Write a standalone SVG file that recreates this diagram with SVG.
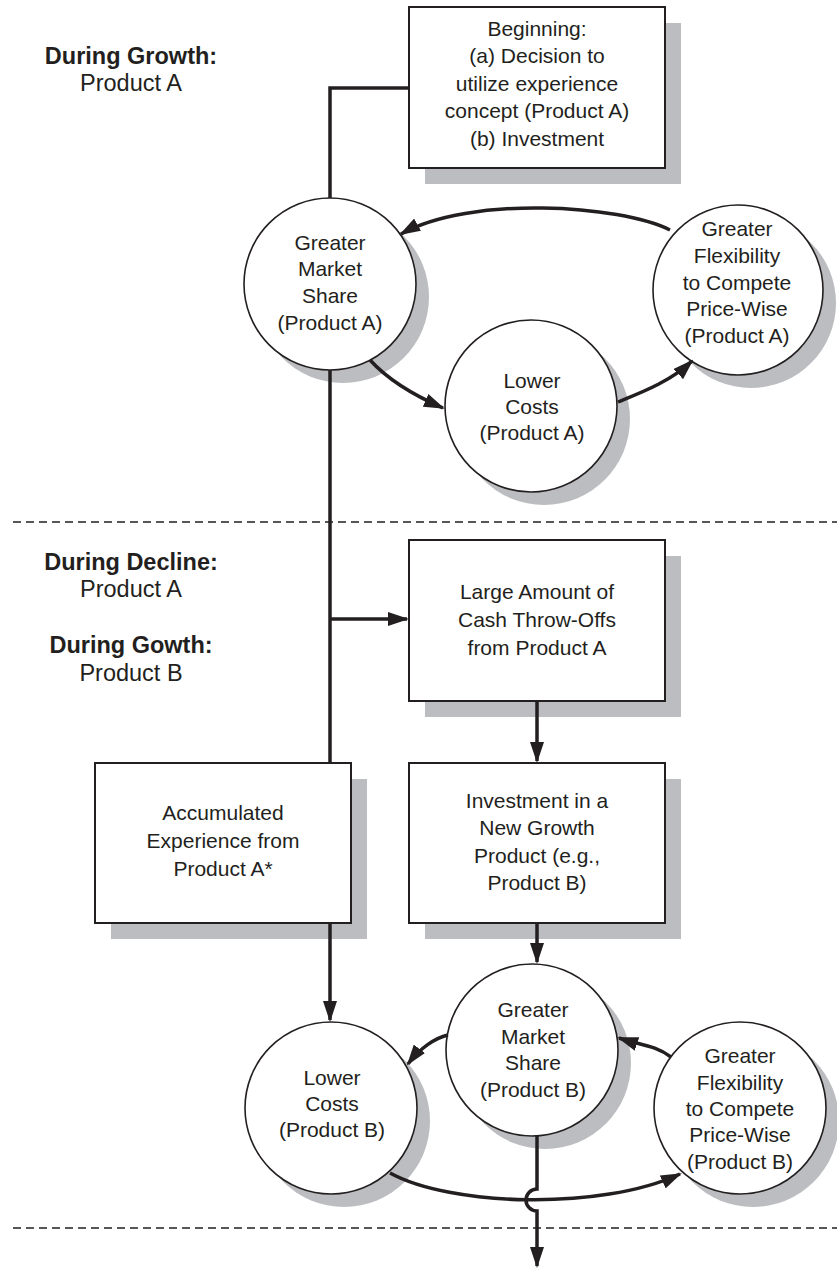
<svg xmlns="http://www.w3.org/2000/svg" width="837" height="1268" viewBox="0 0 837 1268">
<style>
.bg{fill:#ffffff}
.sh{fill:#bcbdc0;stroke:none}
.box{fill:#ffffff;stroke:#231f20;stroke-width:2}
.cir{fill:#ffffff;stroke:#231f20;stroke-width:1.6}
.t{font-family:"Liberation Sans",Arial,Helvetica,sans-serif;font-size:21px;fill:#231f20;text-anchor:middle}
.lb{font-family:"Liberation Sans",Arial,Helvetica,sans-serif;font-size:23.5px;fill:#231f20;text-anchor:middle}
.b{font-weight:bold}
.c{fill:none;stroke:#231f20;stroke-width:3.5}
.a{marker-end:url(#ah)}
.d{fill:none;stroke:#231f20;stroke-width:1.5;stroke-dasharray:8 5}
</style>
<defs>
<marker id="ah" markerUnits="userSpaceOnUse" markerWidth="21" markerHeight="14" refX="19" refY="7" orient="auto">
<path d="M0,0 L21,7 L0,14 z" fill="#231f20"/>
</marker>
</defs>
<rect class="bg" x="0" y="0" width="837" height="1268"/>

<g id="dividers">
<path class="d" d="M13,522 H837"/>
<path class="d" d="M13,1228 H837"/>
</g>

<g id="labels">
<text class="lb b" x="131" y="64">During Growth:</text>
<text class="lb" x="131" y="91">Product A</text>
<text class="lb b" x="131" y="570">During Decline:</text>
<text class="lb" x="131" y="597">Product A</text>
<text class="lb b" x="131" y="653">During Gowth:</text>
<text class="lb" x="131" y="681">Product B</text>
</g>

<g id="beginning">
<rect class="sh" x="425" y="23" width="256" height="161"/>
<rect class="box" x="409" y="7" width="256" height="161"/>
<text class="t" x="537" y="35.5">Beginning:</text>
<text class="t" x="537" y="63">(a) Decision to</text>
<text class="t" x="537" y="90.5">utilize experience</text>
<text class="t" x="537" y="118">concept (Product A)</text>
<text class="t" x="537" y="145.5">(b) Investment</text>
</g>

<g id="gms-a">
<circle class="sh" cx="343" cy="297" r="86"/>
<circle class="cir" cx="330" cy="284" r="86"/>
<text class="t" x="330" y="249.5">Greater</text>
<text class="t" x="330" y="276">Market</text>
<text class="t" x="330" y="302.5">Share</text>
<text class="t" x="330" y="329.5">(Product A)</text>
</g>

<g id="lc-a">
<circle class="sh" cx="544" cy="419" r="86"/>
<circle class="cir" cx="531" cy="406" r="86"/>
<text class="t" x="532" y="387.5">Lower</text>
<text class="t" x="532" y="413.5">Costs</text>
<text class="t" x="532" y="439.5">(Product A)</text>
</g>

<g id="flex-a">
<circle class="sh" cx="751" cy="303" r="85"/>
<circle class="cir" cx="738" cy="290" r="85"/>
<text class="t" x="737" y="235.5">Greater</text>
<text class="t" x="737" y="262.5">Flexibility</text>
<text class="t" x="737" y="289.5">to Compete</text>
<text class="t" x="737" y="315.5">Price-Wise</text>
<text class="t" x="737" y="342.5">(Product A)</text>
</g>

<g id="cash">
<rect class="sh" x="425" y="556" width="256" height="161"/>
<rect class="box" x="409" y="540" width="256" height="161"/>
<text class="t" x="537" y="598.5">Large Amount of</text>
<text class="t" x="537" y="626.5">Cash Throw-Offs</text>
<text class="t" x="537" y="654.5">from Product A</text>
</g>

<g id="accumulated">
<rect class="sh" x="111" y="779" width="256" height="160"/>
<rect class="box" x="95" y="763" width="256" height="160"/>
<text class="t" x="223" y="819.5">Accumulated</text>
<text class="t" x="223" y="847.5">Experience from</text>
<text class="t" x="223" y="875.5">Product A*</text>
</g>

<g id="investment">
<rect class="sh" x="425" y="779" width="256" height="160"/>
<rect class="box" x="409" y="763" width="256" height="160"/>
<text class="t" x="537" y="807.5">Investment in a</text>
<text class="t" x="537" y="834.5">New Growth</text>
<text class="t" x="537" y="862.5">Product (e.g.,</text>
<text class="t" x="537" y="889.5">Product B)</text>
</g>

<g id="gms-b">
<circle class="sh" cx="545" cy="1063" r="86"/>
<circle class="cir" cx="532" cy="1050" r="86"/>
<text class="t" x="533" y="1016.5">Greater</text>
<text class="t" x="533" y="1043.5">Market</text>
<text class="t" x="533" y="1069.5">Share</text>
<text class="t" x="533" y="1096.5">(Product B)</text>
</g>

<g id="lc-b">
<circle class="sh" cx="344" cy="1121" r="86"/>
<circle class="cir" cx="331" cy="1108" r="86"/>
<text class="t" x="332" y="1084.5">Lower</text>
<text class="t" x="332" y="1110.5">Costs</text>
<text class="t" x="332" y="1136.5">(Product B)</text>
</g>

<g id="flex-b">
<circle class="sh" cx="753" cy="1121" r="86"/>
<circle class="cir" cx="740" cy="1108" r="86"/>
<text class="t" x="740" y="1062.5">Greater</text>
<text class="t" x="740" y="1089.5">Flexibility</text>
<text class="t" x="740" y="1115.5">to Compete</text>
<text class="t" x="740" y="1141.5">Price-Wise</text>
<text class="t" x="740" y="1168.5">(Product B)</text>
</g>

<g id="connectors">
<path class="c" d="M409,88 H330 V198"/>
<path class="c" d="M330,370 V763"/>
<path class="c a" d="M330,619 H407"/>
<path class="c a" d="M537,701 V761"/>
<path class="c a" d="M330,923 V1020"/>
<path class="c a" d="M537,923 V962"/>
<path class="c a" d="M537,1136 V1189 A11,11 0 0 0 537,1211 V1266"/>
<path class="c a" d="M670,230 C620,205 470,195 401,234"/>
<path class="c a" d="M370,360 C390,382 420,398 443,408"/>
<path class="c a" d="M618,402 C640,393 670,382 692,361"/>
<path class="c a" d="M448,1035 C435,1038 420,1048 408,1064"/>
<path class="c a" d="M671,1057 C655,1045 640,1045 619,1038"/>
<path class="c a" d="M390,1173 C450,1206 600,1211 680,1174"/>
</g>
</svg>
